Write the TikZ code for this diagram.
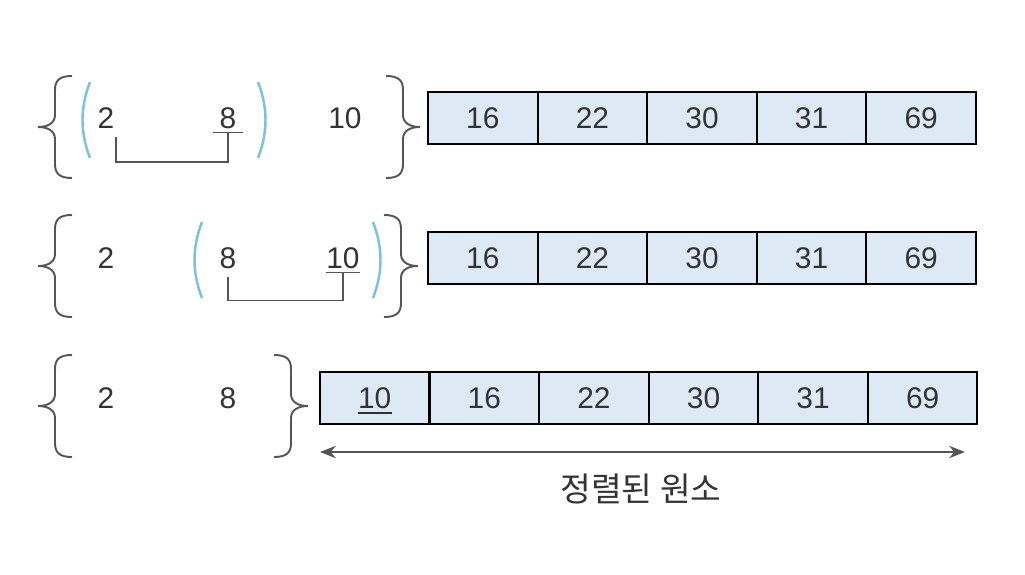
\documentclass[tikz,border=0pt]{standalone}
\usepackage{fontspec}
\setmainfont{Liberation Sans}
\newfontfamily\kr{Noto Sans CJK KR}
\usetikzlibrary{arrows.meta}

\definecolor{cellblue}{HTML}{DDEAF6}
\definecolor{parblue}{HTML}{7CC2E0}
\definecolor{ink}{HTML}{333333}
\definecolor{wire}{HTML}{555555}

\tikzset{
  num/.style={font=\fontsize{17}{20}\selectfont, text=ink, inner xsep=0pt, inner ysep=2pt, minimum width=17pt},
  cell/.style={draw=black, line width=1.1pt, fill=cellblue, minimum width=2.19cm, minimum height=1.04cm,
    inner sep=0pt, outer sep=0pt, font=\fontsize{17}{20}\selectfont, text=ink},
  brace/.style={draw=wire, line width=1.1pt},
  paren/.style={draw=parblue, line width=1.4pt},
  link/.style={draw=wire, line width=1pt},
  lbrace/.pic={\draw[brace] (34,-51) .. controls (22,-51) and (17,-47) .. (17,-37) -- (17,-12)
    .. controls (17,-4) and (10,0) .. (0,0) .. controls (10,0) and (17,4) .. (17,12) -- (17,37)
    .. controls (17,47) and (22,51) .. (34,51);},
  rbrace/.pic={\draw[brace] (-34,-51) .. controls (-22,-51) and (-17,-47) .. (-17,-37) -- (-17,-12)
    .. controls (-17,-4) and (-10,0) .. (0,0) .. controls (-10,0) and (-17,4) .. (-17,12) -- (-17,37)
    .. controls (-17,47) and (-22,51) .. (-34,51);}
}

\begin{document}
\begin{tikzpicture}[x=0.02cm,y=-0.02cm]
\useasboundingbox (0,0) rectangle (1025,575);

% first pass
\pic at (38,127) {lbrace};
\pic at (420,127) {rbrace};
\draw[paren] (90,82) .. controls (80,108) and (80,132) .. (90,158);
\draw[paren] (258,82) .. controls (268,108) and (268,132) .. (258,158);
\node[num] (r1a) at (106,118) {2};
\node[num] (r1b) at (228,118) {8};
\node[num] (r1c) at (345,118) {10};
\draw[link] (r1b.south west) -- (r1b.south east);
\draw[link] ([shift={(10,5)}]r1a.south) -- ++(0,25) -| (r1b.south);
\foreach \v [count=\i] in {16,22,30,31,69}
  \node[cell] (c1\i) at ({482.8+109.6*(\i-1)},118) {\v};

% second pass
\pic at (38,266) {lbrace};
\pic at (418,266) {rbrace};
\draw[paren] (202,222) .. controls (192,248) and (192,272) .. (202,298);
\draw[paren] (373,222) .. controls (383,248) and (383,272) .. (373,298);
\node[num] (r2a) at (106,258) {2};
\node[num] (r2b) at (228,258) {8};
\node[num] (r2c) at (343,258) {10};
\draw[link] (r2c.south west) -- (r2c.south east);
\draw[link] ([shift={(0,5)}]r2b.south) -- ++(0,23) -| (r2c.south);
\foreach \v [count=\i] in {16,22,30,31,69}
  \node[cell] (c2\i) at ({482.8+109.6*(\i-1)},258) {\v};

% third pass
\pic at (38,406) {lbrace};
\pic at (308,406) {rbrace};
\node[num] (r3a) at (106,398) {2};
\node[num] (r3b) at (228,398) {8};
\foreach \v [count=\i] in {10,16,22,30,31,69}
  \node[cell] (c3\i) at ({374.7+109.6*(\i-1)},398) {\v};
\draw[draw=ink, line width=0.9pt] ([shift={(-17,15)}]c31.center) -- ++(34,0);

% sorted part
\coordinate (al) at (320,452);
\coordinate (ar) at (965,452);
\draw[link, line width=1.2pt, {Stealth[length=9pt,width=7pt]}-{Stealth[length=9pt,width=7pt]}] (al) -- (ar);
\node[font=\kr\fontsize{19}{22}\selectfont, text=ink] (lbl) at (641,489) {정렬된 원소};

\end{tikzpicture}
\end{document}
